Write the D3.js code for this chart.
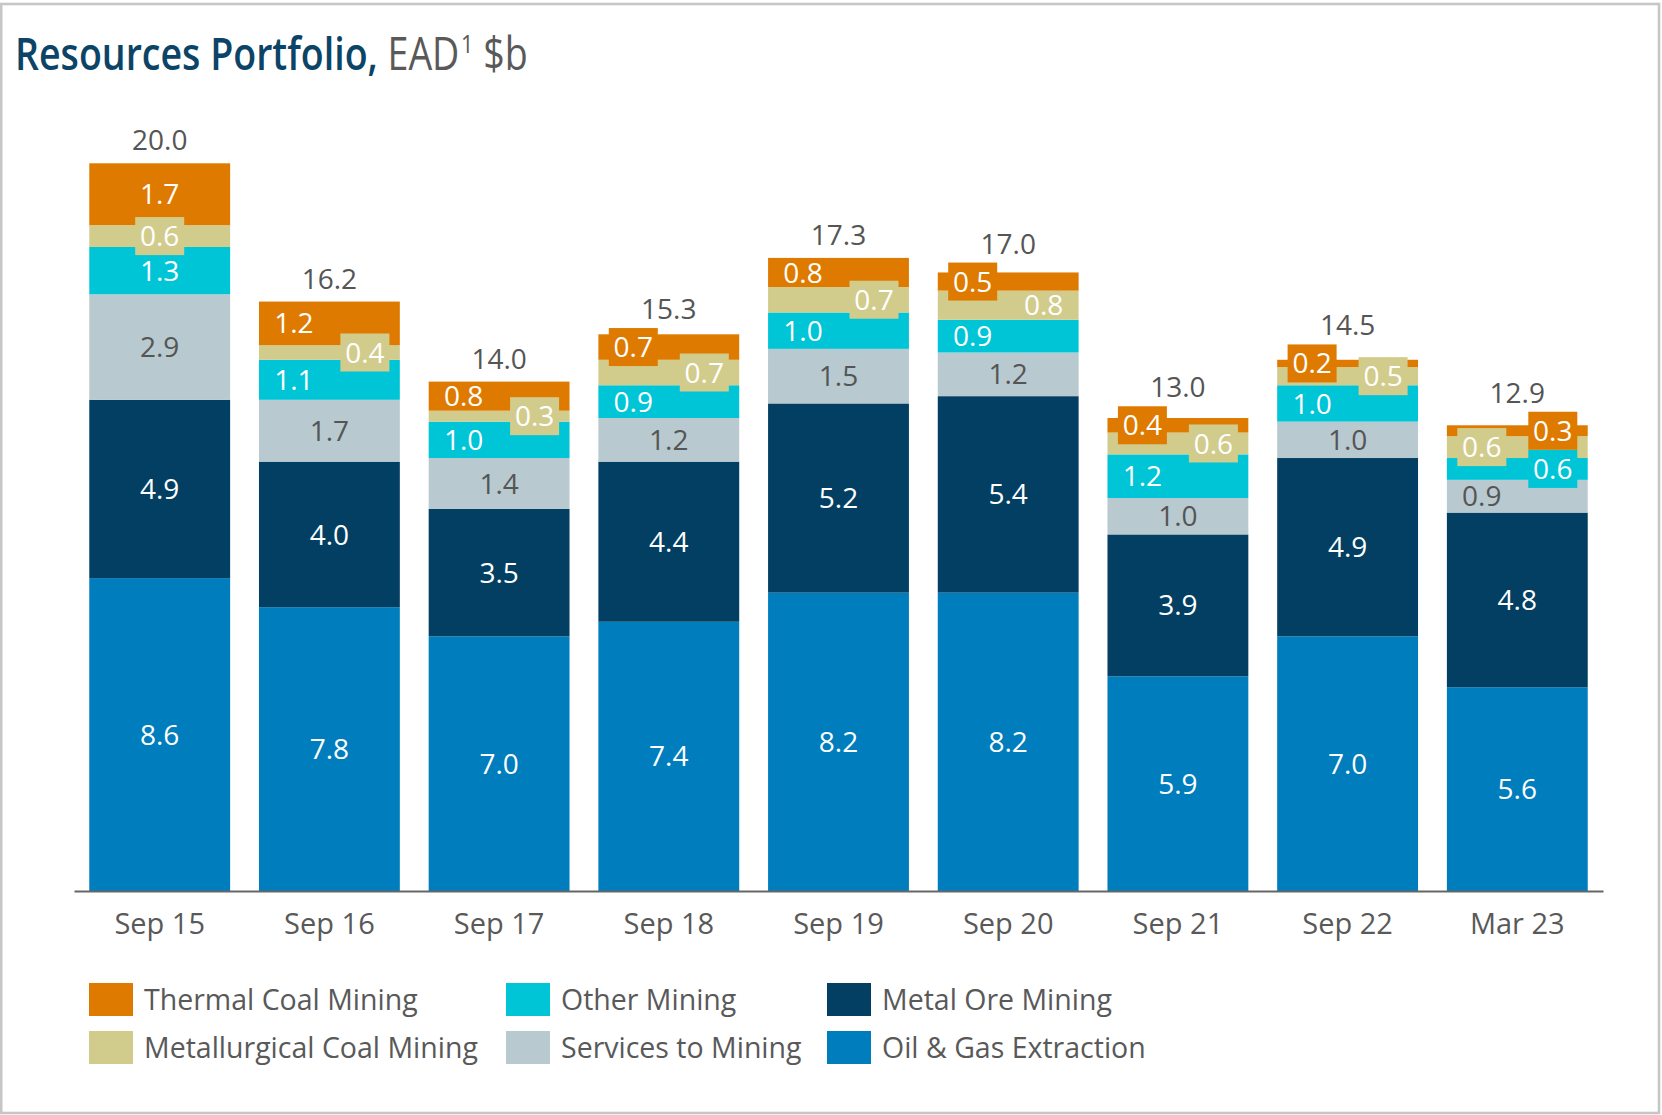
<!DOCTYPE html>
<html>
<head>
<meta charset="utf-8">
<title>Resources Portfolio</title>
<script src="https://cdn.jsdelivr.net/npm/d3@7"></script>
<style>
  html, body { margin: 0; padding: 0; background: #ffffff; }
  svg { display: block; font-family: "Open Sans", "Noto Sans", sans-serif; }
</style>
</head>
<body>
<svg id="chart" width="1662" height="1115"></svg>
<script>
// Exposure at default by sector, $b
const categories = ["Sep 15", "Sep 16", "Sep 17", "Sep 18", "Sep 19", "Sep 20", "Sep 21", "Sep 22", "Mar 23"];
const oilGasExtraction   = [8.6, 7.8, 7.0, 7.4, 8.2, 8.2, 5.9, 7.0, 5.6];
const metalOreMining     = [4.9, 4.0, 3.5, 4.4, 5.2, 5.4, 3.9, 4.9, 4.8];
const servicesToMining   = [2.9, 1.7, 1.4, 1.2, 1.5, 1.2, 1.0, 1.0, 0.9];
const otherMining        = [1.3, 1.1, 1.0, 0.9, 1.0, 0.9, 1.2, 1.0, 0.6];
const metallurgicalCoal  = [0.6, 0.4, 0.3, 0.7, 0.7, 0.8, 0.6, 0.5, 0.6];
const thermalCoal        = [1.7, 1.2, 0.8, 0.7, 0.8, 0.5, 0.4, 0.2, 0.3];
const totals             = [20.0, 16.2, 14.0, 15.3, 17.3, 17.0, 13.0, 14.5, 12.9];

// Series, bottom of the stack first
const series = [
  { key: "oil",      name: "Oil & Gas Extraction",      values: oilGasExtraction,  color: "#007DBC", text: "#ffffff" },
  { key: "metal",    name: "Metal Ore Mining",          values: metalOreMining,    color: "#023F62", text: "#ffffff" },
  { key: "services", name: "Services to Mining",        values: servicesToMining,  color: "#B8C9D0", text: "#555555" },
  { key: "other",    name: "Other Mining",              values: otherMining,       color: "#00C5D7", text: "#ffffff" },
  { key: "met",      name: "Metallurgical Coal Mining", values: metallurgicalCoal, color: "#D2CC8C", text: "#ffffff" },
  { key: "thermal",  name: "Thermal Coal Mining",       values: thermalCoal,       color: "#DF7A00", text: "#ffffff" }
];

// Legend grid order (column by column)
const legendOrder = ["thermal", "met", "other", "services", "metal", "oil"];

const rows = categories.map((c, i) => {
  const r = { category: c, total: totals[i] };
  series.forEach(s => { r[s.key] = s.values[i]; });
  return r;
});

const svg = d3.select("#chart");
const W = 1662, H = 1115;

// outer frame
svg.append("rect")
  .attr("x", 1.2).attr("y", 4)
  .attr("width", W - 4.2).attr("height", H - 6)
  .attr("fill", "#ffffff")
  .attr("stroke", "#c6c6c6")
  .attr("stroke-width", 2.6);

// title: one line, condensed horizontally to its column width
const titleX = 15, titleBaseline = 70, titleWidth = 511;
const titleG = svg.append("g");
const title = titleG.append("text")
  .attr("x", 0).attr("y", 0)
  .attr("font-size", 45)
  .attr("fill", "#595959");
title.append("tspan")
  .attr("font-weight", 600)
  .attr("fill", "#0C4467")
  .text("Resources Portfolio,");
title.append("tspan").text(" EAD");
title.append("tspan")
  .attr("font-size", 26)
  .attr("dy", -17)
  .attr("dx", 2)
  .text("1");
title.append("tspan")
  .attr("dy", 17)
  .text(" $b");
const natural = title.node().getComputedTextLength();
titleG.attr("transform", `translate(${titleX},${titleBaseline}) scale(${titleWidth / natural},1)`);

// scales
const x = d3.scaleBand()
  .domain(categories)
  .range([74, 1603])
  .paddingInner(0.17)
  .paddingOuter(0.09);

const y = d3.scaleLinear()
  .domain([0, 20])
  .range([891, 163.3]);

const stack = d3.stack().keys(series.map(s => s.key));
const layers = stack(rows);
const byKey = {};
series.forEach(s => { byKey[s.key] = s; });

// bars
const barG = svg.append("g");
barG.selectAll("g.layer")
  .data(layers)
  .join("g")
  .attr("class", "layer")
  .attr("fill", d => byKey[d.key].color)
  .selectAll("rect")
  .data(d => d)
  .join("rect")
  .attr("x", d => x(d.data.category))
  .attr("width", x.bandwidth())
  .attr("y", d => y(d[1]))
  .attr("height", d => y(d[0]) - y(d[1]));

// x axis
const axisG = svg.append("g")
  .attr("transform", `translate(0,${y(0)})`)
  .call(d3.axisBottom(x).tickSize(0).tickSizeOuter(0));
axisG.select(".domain")
  .attr("stroke", "#666666")
  .attr("stroke-width", 2.2);
axisG.selectAll(".tick text")
  .attr("y", 43)
  .attr("dy", 0)
  .attr("font-family", "'Open Sans', sans-serif")
  .attr("font-size", 29)
  .attr("fill", "#595959");

// label side within a bar: -1 left, 0 centre, 1 right
function labelSide(category, key) {
  if (category === "Sep 15") return 0;
  if (category === "Mar 23") {
    return { thermal: 1, met: -1, other: 1, services: -1 }[key] || 0;
  }
  return { thermal: -1, met: 1, other: -1 }[key] || 0;
}

const sideOffset = 35.5;
const boxW = 49, boxH = 38;

// highest drawn point of each bar (bar top or a label box poking above it)
const topEdge = {};
categories.forEach(c => { topEdge[c] = Infinity; });

const labelG = svg.append("g");
layers.forEach(layer => {
  const s = byKey[layer.key];
  layer.forEach(d => {
    const cat = d.data.category;
    const v = d.data[layer.key];
    const cx = x(cat) + x.bandwidth() / 2 + labelSide(cat, layer.key) * sideOffset;
    const cy = (y(d[0]) + y(d[1])) / 2;
    const segH = y(d[0]) - y(d[1]);
    topEdge[cat] = Math.min(topEdge[cat], y(d[1]) - 13);
    if (segH < 29) {
      labelG.append("rect")
        .attr("x", cx - boxW / 2)
        .attr("y", cy - boxH / 2)
        .attr("width", boxW)
        .attr("height", boxH)
        .attr("fill", s.color);
      topEdge[cat] = Math.min(topEdge[cat], cy - boxH / 2 - 9);
    }
    labelG.append("text")
      .attr("x", cx)
      .attr("y", cy)
      .attr("dy", "0.36em")
      .attr("text-anchor", "middle")
      .attr("font-size", 28)
      .attr("fill", s.text)
      .text(d3.format(".1f")(v));
  });
});

// totals above each bar
svg.append("g")
  .selectAll("text")
  .data(rows)
  .join("text")
  .attr("x", d => x(d.category) + x.bandwidth() / 2)
  .attr("y", d => topEdge[d.category])
  .attr("text-anchor", "middle")
  .attr("font-size", 28)
  .attr("fill", "#555555")
  .text(d => d3.format(".1f")(d.total));

// legend
const legendCols = [89, 506, 827];
const legendRows = [983, 1031];
const legend = svg.append("g");
legendOrder.forEach((k, i) => {
  const s = byKey[k];
  const col = Math.floor(i / 2), row = i % 2;
  const lx = legendCols[col], ly = legendRows[row];
  legend.append("rect")
    .attr("x", lx).attr("y", ly)
    .attr("width", 44).attr("height", 33)
    .attr("fill", s.color);
  legend.append("text")
    .attr("x", lx + 55).attr("y", ly + 16.5)
    .attr("dy", "0.36em")
    .attr("font-size", 28.5)
    .attr("fill", "#595959")
    .text(s.name);
});
</script>
</body>
</html>
